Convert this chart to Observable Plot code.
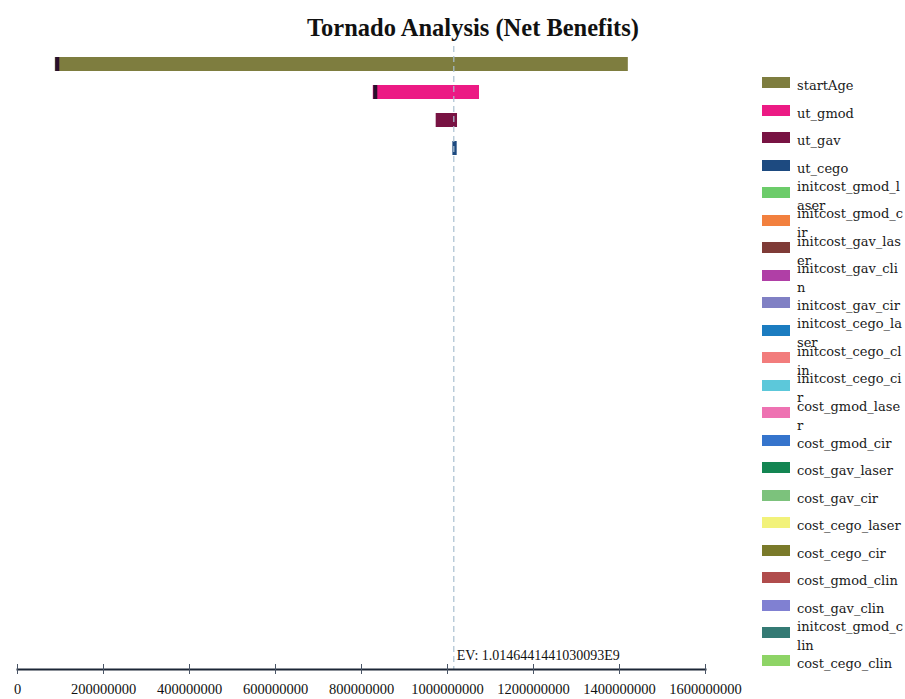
<!DOCTYPE html>
<html><head><meta charset="utf-8">
<script src="https://cdn.jsdelivr.net/npm/d3@7"></script>
<script src="https://cdn.jsdelivr.net/npm/@observablehq/plot@0.6"></script>
<style>
html,body{margin:0;padding:0;background:#fff;}
#wrap{position:relative;width:905px;height:699px;overflow:hidden;background:#fff;}
#chart{position:absolute;left:0;top:0;}
#title{position:absolute;left:0;width:946px;top:14px;text-align:center;font:bold 24.5px "Liberation Serif",serif;line-height:1.15;color:#111;}
#legend{position:absolute;left:762px;top:69px;}
.item{height:27.5px;display:flex;align-items:center;}
.sw{width:28px;height:11px;flex:none;margin-right:7px;}
.lab{width:106px;word-break:break-all;font:13px "DejaVu Serif",serif;line-height:19px;color:#1a1a1a;position:relative;top:3px;}
</style>
</head><body>
<div id="wrap">
  <div id="chart"></div>
  <div id="title"></div>
  <div id="legend"></div>
</div>
<script>
const titleText = "Tornado Analysis (Net Benefits)";
const variables = ["startAge","ut_gmod","ut_gav","ut_cego","initcost_gmod_laser","initcost_gmod_cir","initcost_gav_laser","initcost_gav_clin","initcost_gav_cir","initcost_cego_laser","initcost_cego_clin","initcost_cego_cir","cost_gmod_laser","cost_gmod_cir","cost_gav_laser","cost_gav_cir","cost_cego_laser","cost_cego_cir","cost_gmod_clin","cost_gav_clin","initcost_gmod_clin","cost_cego_clin"];
const colors = ["#7e7d3f","#ec1a84","#781343","#1d4a80","#6ccc6a","#f2803e","#7f3b37","#b03fa6","#8080c4","#1b7cc0","#f27c7c","#5cc8da","#ee72b2","#3574cc","#138552","#7cc27c","#f2f27a","#7a7a2a","#b04c4c","#8080d2","#347a74","#8ed466"];
// Bars (only the first four variables show a visible swing)
const lowValues  = [87.9e6, 827.4e6, 973.7e6, 1012.5e6];
const highValues = [1420.5e6, 1074.4e6, 1023.3e6, 1022.5e6];
const ev = 1.0146441441030093e9;
const evLabel = "EV: 1.0146441441030093E9";
const xTicks = [0, 200000000, 400000000, 600000000, 800000000, 1000000000, 1200000000, 1400000000, 1600000000];

const bars = lowValues.map((lo, i) => ({name: variables[i], low: lo, high: highValues[i], color: colors[i]}));

document.getElementById("title").textContent = titleText;

const chart = Plot.plot({
  width: 905,
  height: 699,
  marginLeft: 17,
  marginRight: 200,
  marginTop: 46,
  marginBottom: 30,
  style: {background: "transparent", fontFamily: "Liberation Serif, serif", color: "#1a1a1a"},
  x: {domain: [0, 1.6e9]},
  y: {domain: variables, paddingInner: 0.5, paddingOuter: 0.25, axis: null},
  marks: [
    Plot.barX(bars, {x1: "low", x2: "high", y: "name", fill: "color"}),
    Plot.tickX(bars.filter(d => d.high - d.low > 1e8), {x: "low", y: "name", stroke: "#2a0f2c", strokeWidth: 4, dx: 2}),
    Plot.ruleX([ev], {x: d => d, stroke: "#a9bfd0", strokeWidth: 1.2, strokeDasharray: "6,4"}),
    Plot.frame({anchor: "bottom", stroke: "#1c2636", strokeWidth: 2}),
    Plot.axisX(xTicks, {tickSize: 10, tickPadding: 9, dy: -5, stroke: "#4a5566", tickFormat: d => d3.format("d")(d), fontSize: 14.5, fill: "#111", label: null}),
    Plot.text([ev], {x: d => d, frameAnchor: "bottom", text: () => evLabel, textAnchor: "start", lineAnchor: "bottom", dx: 3, dy: -10, fontSize: 14, fill: "#111"})
  ]
});
document.getElementById("chart").appendChild(chart);

const legend = document.getElementById("legend");
variables.forEach((v, i) => {
  const item = document.createElement("div");
  item.className = "item";
  const sw = document.createElement("div");
  sw.className = "sw";
  sw.style.background = colors[i];
  const lab = document.createElement("div");
  lab.className = "lab";
  lab.textContent = v;
  item.appendChild(sw);
  item.appendChild(lab);
  legend.appendChild(item);
});
</script>
</body></html>
